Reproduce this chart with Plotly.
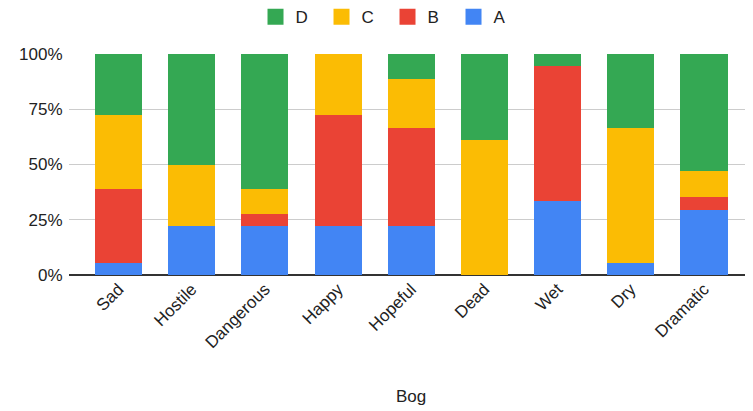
import plotly.graph_objects as go

categories = ["Sad", "Hostile", "Dangerous", "Happy", "Hopeful", "Dead", "Wet", "Dry", "Dramatic"]
series_a = [1, 4, 4, 4, 4, 0, 6, 1, 5]
series_b = [6, 0, 1, 9, 8, 0, 11, 0, 1]
series_c = [6, 5, 2, 5, 4, 11, 0, 11, 2]
series_d = [5, 9, 11, 0, 2, 7, 1, 6, 9]
series_names = ["A", "B", "C", "D"]
colors = ["#4285F4", "#EA4335", "#FBBC04", "#34A853"]
y_ticks = [0, 25, 50, 75, 100]

fig = go.Figure()
for name, vals, col in zip(series_names, [series_a, series_b, series_c, series_d], colors):
    fig.add_trace(go.Bar(x=categories, y=vals, name=name, showlegend=False,
                         marker=dict(color=col, line=dict(width=0))))
# legend entries (larger swatches), order D, C, B, A
for name, col in reversed(list(zip(series_names, colors))):
    fig.add_trace(go.Scatter(x=[None], y=[None], mode="markers", name=name,
                             marker=dict(symbol="square", size=16, color=col)))

font = "Arial, Liberation Sans, sans-serif"
fs = 17
fig.update_layout(
    barmode="stack",
    barnorm="percent",
    bargap=0.357,
    width=753, height=411,
    margin=dict(l=61, r=8, t=46, b=144, autoexpand=False),
    paper_bgcolor="white", plot_bgcolor="white",
    font=dict(family=font, size=fs, color="#222"),
    legend=dict(orientation="h", traceorder="normal", xref="container", x=0.504, xanchor="center",
                yref="paper", y=1.167, yanchor="middle", font=dict(size=fs, color="#222"),
                entrywidth=21, entrywidthmode="pixels", itemsizing="trace"),
    xaxis=dict(range=[-0.6775, 8.67], tickangle=-45, tickfont=dict(size=fs, color="#222"),
               title=dict(text="Bog", font=dict(size=fs, color="#222"), standoff=38),
               showgrid=False, ticks=""),
    yaxis=dict(range=[0, 100], tickvals=y_ticks, ticktext=[f"{v}%" for v in y_ticks],
               gridcolor="#cccccc", zeroline=True, zerolinecolor="#333333", zerolinewidth=1.5,
               tickfont=dict(size=fs, color="#222"), ticks="outside", tickcolor="white", ticklen=2),
    hovermode=False,
)
fig.write_html("out.html")
